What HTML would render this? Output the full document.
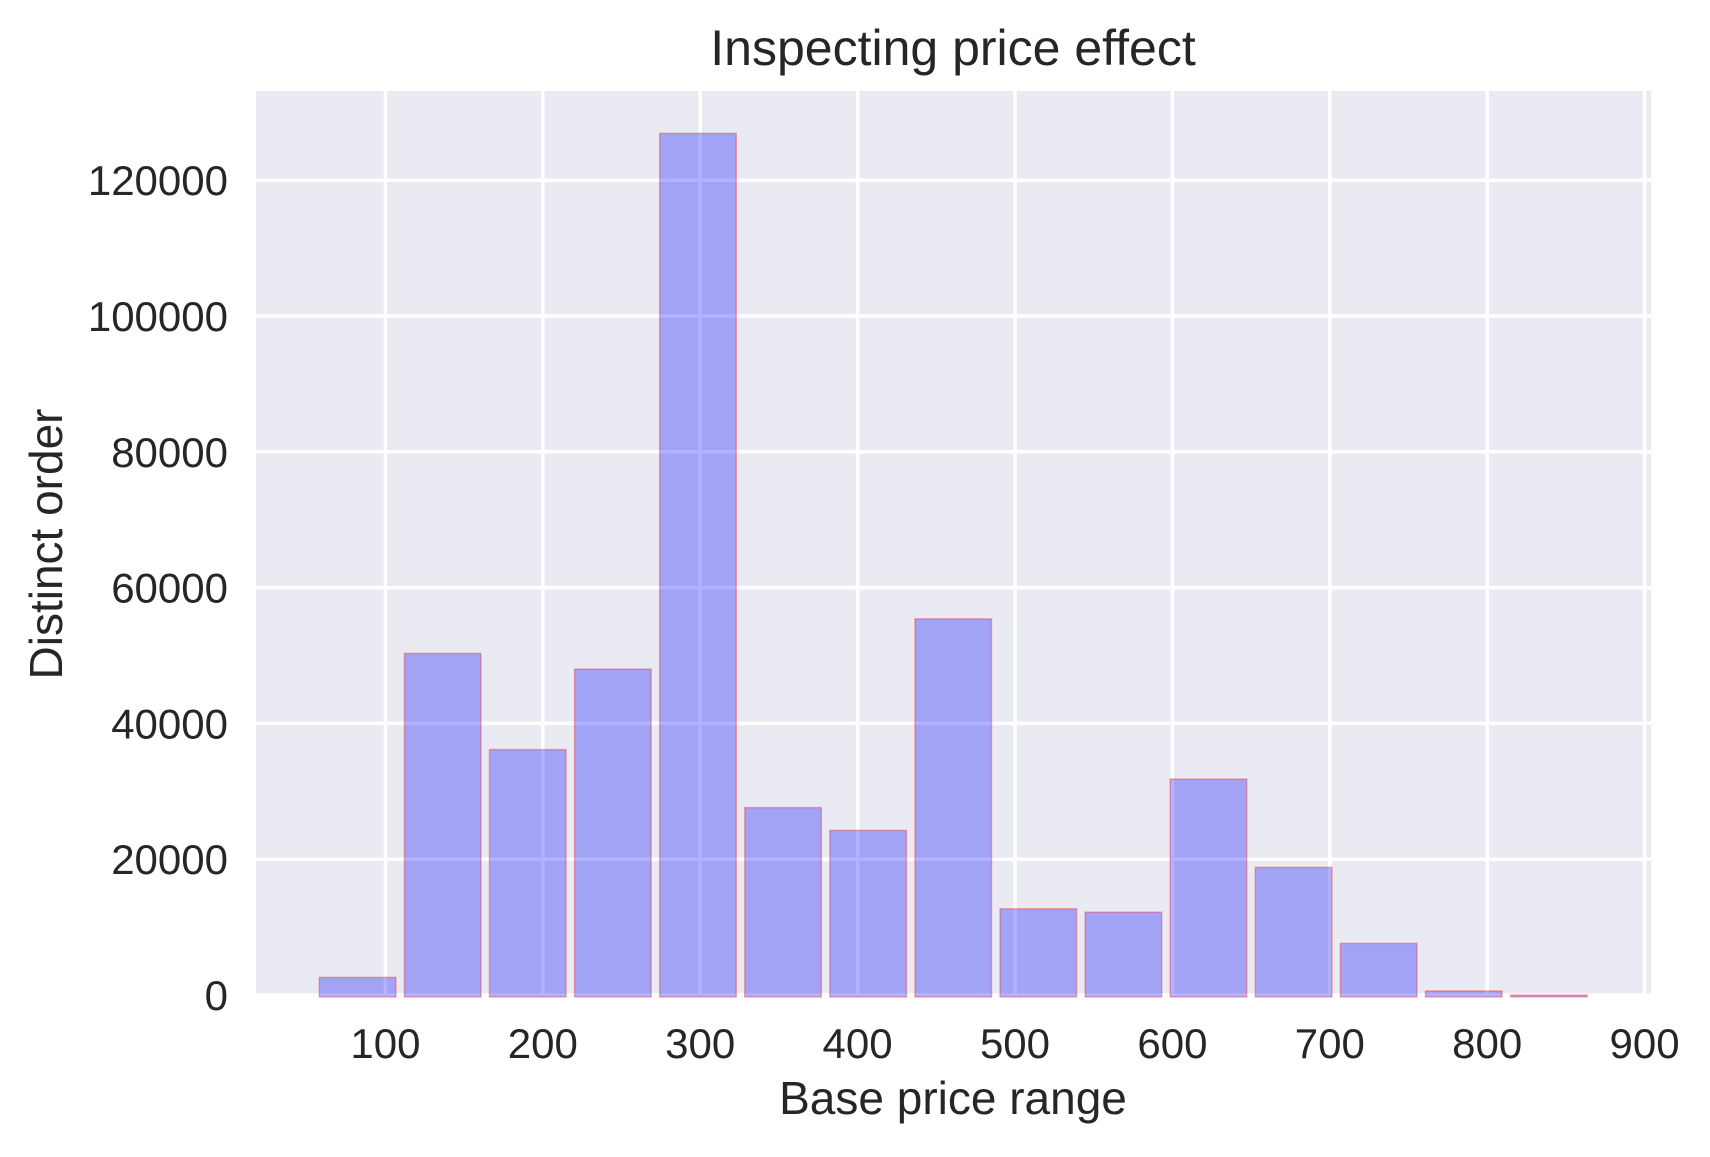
<!DOCTYPE html>
<html><head><meta charset="utf-8"><style>
html,body{margin:0;padding:0;background:#fff;}
svg text{font-family:"Liberation Sans",Arial,sans-serif;fill:#262626;}
</style></head><body>
<svg id="chart" width="1710" height="1152" xmlns="http://www.w3.org/2000/svg">
<rect x="256" y="91" width="1395" height="904" fill="#eaeaf2"/>
<g id="grid"></g>
<g id="bars"></g>
<g id="xticks"></g>
<g id="yticks"></g>
<text x="953" y="65" font-size="50" text-anchor="middle">Inspecting price effect</text>
<text x="953" y="1114" font-size="46" text-anchor="middle">Base price range</text>
<text x="0" y="0" font-size="46" text-anchor="middle" transform="translate(62,544) rotate(-90)">Distinct order</text>
</svg>
<script>
const binStart = 55.3;
const binWidth = 54.06;
const counts = [2600, 50300, 36150, 48000, 126900, 27600, 24250, 55400, 12700, 12200, 31800, 18800, 7600, 600, 0];
const xTicks = [100, 200, 300, 400, 500, 600, 700, 800, 900];
const yTicks = [0, 20000, 40000, 60000, 80000, 100000, 120000];

const NS = "http://www.w3.org/2000/svg";
const X0 = 228, XS = 1.574;
const Y0 = 995, YS = 135.8 / 20000;
const px = v => X0 + v * XS;
const py = v => Y0 - v * YS;
function mk(tag, attrs, parent) {
  const e = document.createElementNS(NS, tag);
  for (const k in attrs) e.setAttribute(k, attrs[k]);
  parent.appendChild(e);
  return e;
}
const grid = document.getElementById('grid');
const bars = document.getElementById('bars');
const xt = document.getElementById('xticks');
const yt = document.getElementById('yticks');

xTicks.forEach(t => {
  const l = mk('line', {x1: px(t), x2: px(t), y1: 91, y2: 995, stroke: '#fff', 'stroke-width': 3.5}, grid);
  
  
  const tx = mk('text', {x: px(t), y: 1058, 'font-size': 42, 'text-anchor': 'middle'}, xt);
  tx.textContent = t;
  
  
});
yTicks.forEach(t => {
  const l = mk('line', {x1: 256, x2: 1651, y1: py(t), y2: py(t), stroke: '#fff', 'stroke-width': 3.5}, grid);
  
  
  const tx = mk('text', {x: 228, y: py(t) + 15, 'font-size': 42, 'text-anchor': 'end'}, yt);
  tx.textContent = t;
  
  
});
counts.forEach((c, i) => {
  const a = binStart + i * binWidth + binWidth * 0.05;
  const b = a + binWidth * 0.9;
  const r = mk('rect', {x: px(a), y: py(c), width: px(b) - px(a), height: (997 - py(c)),
    fill: 'rgba(0,0,255,0.3)', stroke: 'rgba(255,0,0,0.3)', 'stroke-width': 1.5}, bars);
  
  
});
</script>
</body></html>
